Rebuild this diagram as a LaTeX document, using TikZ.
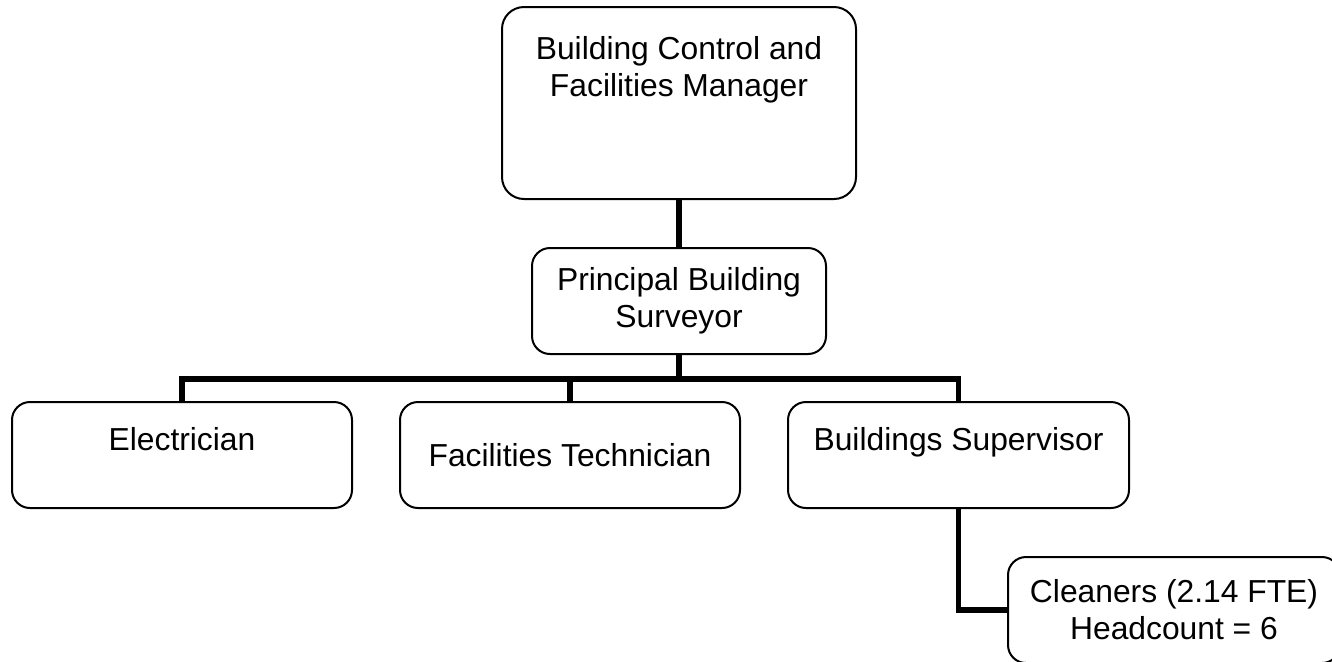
\documentclass[tikz,border=0pt]{standalone}
\usepackage{fontspec}
\setmainfont{Liberation Sans}
\newcommand\postfont{\fontsize{15.9pt}{18.6pt}\selectfont}

\begin{document}
\begin{tikzpicture}[x=0.5pt,y=-0.5pt,
    post/.style={draw,line width=1pt,rounded corners=9pt,minimum height=53pt,
      align=center,inner sep=0pt,font=\postfont},
    caption/.style={inner sep=0pt,align=center,font=\postfont},
    link/.style={line width=2.6pt}]
\clip (0,0) rectangle (1332,661);
\node[post,minimum width=177pt,minimum height=96pt,rounded corners=11pt] (manager) at (679,103) {};
\node[caption,anchor=north] at ([yshift=-15pt]manager.north) {Building Control and\\Facilities Manager};
\node[post,minimum width=147pt] (surveyor) at (679,301) {Principal Building\\Surveyor};
\node[post,minimum width=170pt] (electrician) at (182,455) {};
\node[caption,anchor=base] at ([yshift=-24.5pt]electrician.north) {Electrician};
\node[post,minimum width=170pt] (technician) at (570,455) {Facilities Technician};
\node[post,minimum width=170.5pt] (supervisor) at (958.5,455) {};
\node[caption,anchor=base] at ([yshift=-24.5pt]supervisor.north) {Buildings Supervisor};
\node[post,minimum width=166pt] (cleaners) at (1174,610) {Cleaners (2.14 FTE)\\Headcount = 6};
\coordinate (bar) at (679,379);
\draw[link] (manager.south) -- (surveyor.north);
\draw[link] (surveyor.south) -- (bar);
\draw[link] (bar) -| (electrician.north);
\draw[link] (bar) -| (technician.north);
\draw[link] (bar) -| (supervisor.north);
\draw[link] (supervisor.south) |- (cleaners.west);
\end{tikzpicture}
\end{document}
